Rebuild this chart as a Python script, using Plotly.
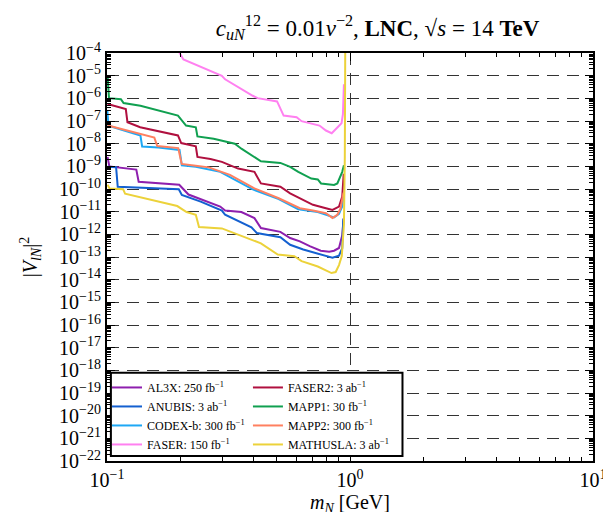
import plotly.graph_objects as go

# ---- data ----
al3x_m = [0.1005, 0.1023, 0.132, 0.135, 0.1983, 0.2164, 0.2924, 0.3062, 0.3573, 0.4043, 0.43, 0.517, 0.567, 0.622, 0.6826, 0.758, 0.821, 0.86, 0.901, 0.929, 0.942]
al3x_v = [2.6e-9, 9.95e-10, 7.2e-10, 2.09e-10, 1.54e-10, 5.7e-11, 1.68e-11, 1.12e-11, 9.7e-12, 5.2e-12, 1.89e-12, 1.29e-12, 6.9e-13, 4.9e-13, 3.0e-13, 1.9e-13, 1.71e-13, 1.9e-13, 2.5e-13, 9.0e-13, 5.0e-12]

anubis_m = [0.1005, 0.109, 0.1107, 0.1974, 0.2032, 0.243, 0.297, 0.3062, 0.393, 0.4137, 0.517, 0.567, 0.642, 0.749, 0.847, 0.901, 0.929, 0.937, 0.94]
anubis_v = [9.5e-10, 9.2e-10, 1.26e-10, 9.8e-11, 5.46e-11, 2.78e-11, 1.12e-11, 7.3e-12, 2.02e-12, 1.14e-12, 7.4e-13, 3.47e-13, 2.14e-13, 1.29e-13, 9.2e-14, 1.15e-13, 2.44e-13, 3.7e-12, 4.9e-12]

codex_m = [0.1003, 0.1014, 0.1373, 0.1395, 0.1628, 0.1988, 0.2032, 0.232, 0.2924, 0.398, 0.509, 0.6125, 0.737, 0.834, 0.86, 0.901, 0.929, 0.944]
codex_v = [2.95e-7, 6.2e-8, 2.26e-8, 7.5e-9, 6.75e-9, 5.25e-9, 1.12e-9, 9.5e-10, 5.7e-10, 9.6e-11, 3.58e-11, 1.28e-11, 9.7e-12, 6.6e-12, 5.55e-12, 8.05e-12, 1.68e-11, 6.4e-11]

faser_m = [0.198, 0.2019, 0.2063, 0.297, 0.3062, 0.398, 0.4168, 0.501, 0.5332, 0.603, 0.6316, 0.749, 0.796, 0.841, 0.887, 0.923, 0.935, 0.944]
faser_v = [1.1e-4, 7.3e-5, 5.2e-5, 9.8e-6, 6.9e-6, 1.3e-6, 1.02e-6, 7.3e-7, 1.74e-7, 1.46e-7, 9.8e-8, 6.3e-8, 3.8e-8, 2.9e-8, 5.3e-8, 8.0e-8, 2.0e-7, 4.2e-6]

faser2_m = [0.1005, 0.1195, 0.1214, 0.1369, 0.1959, 0.202, 0.232, 0.2356, 0.2665, 0.297, 0.3463, 0.4043, 0.43, 0.517, 0.567, 0.642, 0.704, 0.796, 0.847, 0.901, 0.929, 0.942]
faser2_v = [5.6e-7, 3.37e-7, 8.8e-8, 5.3e-8, 2.3e-8, 1.06e-8, 7.6e-9, 2.59e-9, 2.12e-9, 1.57e-9, 7.97e-10, 5.7e-10, 1.76e-10, 1.26e-10, 6.4e-11, 3.3e-11, 2.0e-11, 1.42e-11, 1.2e-11, 1.68e-11, 4.6e-11, 4.7e-10]

mapp1_m = [0.1005, 0.1019, 0.1141, 0.117, 0.1373, 0.1959, 0.2115, 0.232, 0.2356, 0.2748, 0.3357, 0.3573, 0.43, 0.517, 0.567, 0.6125, 0.693, 0.737, 0.76, 0.86, 0.887, 0.929, 0.944]
mapp1_v = [1.0e-5, 1.02e-6, 9.2e-7, 6.2e-7, 4.7e-7, 1.73e-7, 6.3e-8, 5.3e-8, 2.09e-8, 1.64e-8, 9.9e-9, 6.0e-9, 1.68e-9, 1.42e-9, 9.5e-10, 5.7e-10, 2.9e-10, 2.63e-10, 1.76e-10, 1.5e-10, 1.76e-10, 5.7e-10, 1.12e-9]

mapp2_m = [0.1005, 0.1019, 0.1566, 0.161, 0.1964, 0.2029, 0.232, 0.2623, 0.3206, 0.4043, 0.509, 0.585, 0.622, 0.704, 0.796, 0.847, 0.887, 0.914, 0.94]
mapp2_v = [6.5e-8, 6.2e-8, 1.85e-8, 7.85e-9, 6.4e-9, 1.28e-9, 1.05e-9, 9.0e-10, 4.2e-10, 1.06e-10, 3.9e-11, 2.0e-11, 1.42e-11, 1.12e-11, 8.55e-12, 5.3e-12, 7.3e-12, 1.37e-11, 6.9e-11]

mathusla_m = [0.1005, 0.1025, 0.1165, 0.1187, 0.1946, 0.2125, 0.232, 0.2391, 0.297, 0.3463, 0.43, 0.5044, 0.59, 0.632, 0.737, 0.839, 0.873, 0.901, 0.925, 0.944, 0.952, 0.956]
mathusla_v = [1.54e-10, 1.06e-10, 9.8e-11, 6.2e-11, 1.77e-11, 9.7e-12, 7.3e-12, 2.09e-12, 1.83e-12, 9.7e-13, 4.0e-13, 1.29e-13, 1.09e-13, 6.6e-14, 3.8e-14, 1.96e-14, 2.17e-14, 4.4e-14, 1.09e-13, 2.74e-12, 2.6e-9, 1.7e-4]

series = [
    ("AL3X: 250 fb<sup>−1</sup>", al3x_m, al3x_v, "#8e1fae", "legend", 1),
    ("ANUBIS: 3 ab<sup>−1</sup>", anubis_m, anubis_v, "#1460d0", "legend", 2),
    ("CODEX-b: 300 fb<sup>−1</sup>", codex_m, codex_v, "#1ea8f5", "legend", 3),
    ("FASER: 150 fb<sup>−1</sup>", faser_m, faser_v, "#ff80f0", "legend", 4),
    ("FASER2: 3 ab<sup>−1</sup>", faser2_m, faser2_v, "#b0103f", "legend2", 1),
    ("MAPP1: 30 fb<sup>−1</sup>", mapp1_m, mapp1_v, "#10a050", "legend2", 2),
    ("MAPP2: 300 fb<sup>−1</sup>", mapp2_m, mapp2_v, "#ff8060", "legend2", 3),
    ("MATHUSLA: 3 ab<sup>−1</sup>", mathusla_m, mathusla_v, "#ecd23a", "legend2", 4),
]

x_major = [0.1, 1, 10]
x_labels = ["10<sup>−1</sup>", "10<sup>0</sup>", "10<sup>1</sup>"]
y_exps = list(range(-22, -3))
y_major = [10.0 ** e for e in y_exps]
y_labels = ["10<sup>%s</sup>" % (("−" + str(-e)) if e < 0 else str(e)) for e in y_exps]

FONT = "Liberation Serif"

fig = go.Figure()
for name, m, v, col, lg, rank in series:
    fig.add_trace(go.Scatter(x=m, y=v, mode="lines", name=name,
                             line=dict(color=col, width=2),
                             legend=lg, legendrank=rank))

x_minor = [k * 10.0 ** e for e in (-1, 0) for k in range(2, 10)]
y_minor = [k * 10.0 ** e for e in range(-22, -4) for k in range(2, 10)]

axis_common = dict(type="log", showline=True, linecolor="black", linewidth=2,
                   mirror="allticks", ticks="inside", ticklen=8, tickwidth=1,
                   tickcolor="black", showgrid=True, gridcolor="#333333",
                   griddash="12px,8px", gridwidth=1, zeroline=False,
                   tickfont=dict(family=FONT, size=20, color="black"))

fig.update_xaxes(range=[-1, 1], tickmode="array", tickvals=x_major, ticktext=x_labels,
                 title=dict(text="<i>m</i><sub><i>N</i></sub> [GeV]",
                            font=dict(family=FONT, size=20, color="black"), standoff=3),
                 minor=dict(tickmode="array", tickvals=x_minor, ticks="inside",
                            ticklen=4, tickcolor="black", showgrid=False),
                 **axis_common)
fig.update_yaxes(range=[-22, -4], tickmode="array", tickvals=y_major, ticktext=y_labels,
                 title=dict(text="|<i>V</i><sub><i>lN</i></sub>|<sup>2</sup>",
                            font=dict(family=FONT, size=20, color="black"), standoff=16),
                 minor=dict(tickmode="array", tickvals=y_minor, ticks="inside",
                            ticklen=4, tickcolor="black", showgrid=False),
                 **axis_common)

leg_font = dict(family=FONT, size=12, color="black")
fig.update_layout(
    width=611, height=512,
    margin=dict(l=99, r=14, t=45, b=56),
    paper_bgcolor="white", plot_bgcolor="white",
    title=dict(text="<i>c</i><sub><i>uN</i></sub><sup>12</sup> = 0.01<i>v</i><sup>−2</sup>, <b>LNC</b>, √<i>s</i> = 14 <b>TeV</b>",
               x=0.605, xanchor="center", y=0.962, yanchor="middle",
               font=dict(family=FONT, size=23, color="black")),
    legend=dict(x=0.0, y=0.005, xanchor="left", yanchor="bottom", bgcolor="rgba(0,0,0,0)",
                font=leg_font, itemwidth=30, tracegroupgap=0),
    legend2=dict(x=0.29, y=0.005, xanchor="left", yanchor="bottom", bgcolor="rgba(0,0,0,0)",
                 font=leg_font, itemwidth=30, tracegroupgap=0),
    shapes=[dict(type="rect", xref="paper", yref="paper", x0=0.008, x1=0.608,
                 y0=0.012, y1=0.216, line=dict(color="black", width=2),
                 fillcolor="white", layer="above")],
)

fig.write_html("out.html")
